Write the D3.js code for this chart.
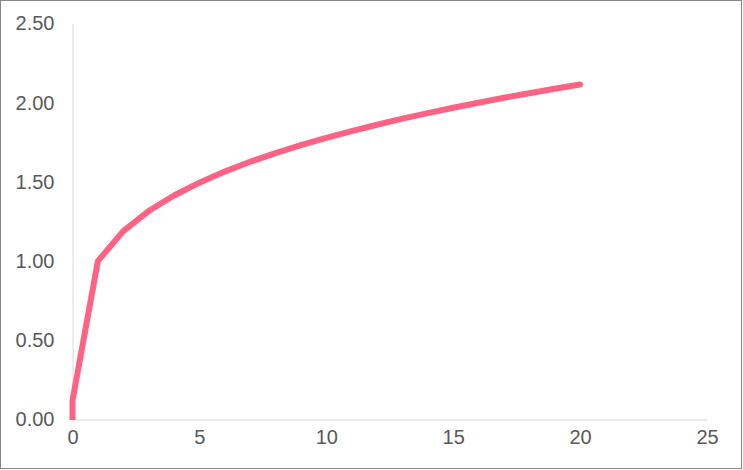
<!DOCTYPE html>
<html><head><meta charset="utf-8">
<script src="https://cdn.jsdelivr.net/npm/d3@7"></script>
<style>html,body{margin:0;padding:0;background:#fff;}svg{display:block;}</style>
</head><body>
<svg id="chart" width="743" height="470"></svg>
<script>
const xValues = [0, 0.0002, 1, 2, 3, 4, 5, 6, 7, 8, 9, 10, 11, 12, 13, 14, 15, 16, 17, 18, 19, 20];
const yValues = [0, 0.12, 1.000, 1.189, 1.316, 1.414, 1.495, 1.565, 1.627, 1.682, 1.732, 1.778, 1.821, 1.861, 1.899, 1.934, 1.968, 2.000, 2.031, 2.060, 2.088, 2.115];
const xTicks = [0, 5, 10, 15, 20, 25];
const yTicks = [0, 0.5, 1.0, 1.5, 2.0, 2.5];

const svg = d3.select("#chart");
const W = 743, H = 470;
svg.append("rect").attr("x", 0.5).attr("y", 0.5).attr("width", W - 2).attr("height", H - 2)
  .attr("fill", "#fff").attr("stroke", "#868686").attr("stroke-width", 1);

const x = d3.scaleLinear().domain([0, 25]).range([72.5, 707]);
const y = d3.scaleLinear().domain([0, 2.5]).range([419.5, 23.5]);
const font = "'Liberation Sans', Arial, sans-serif";

svg.append("clipPath").attr("id", "plotclip").append("rect")
  .attr("x", 60).attr("y", 0).attr("width", 700).attr("height", y(0) + 0.5);

// y axis
const yAxis = svg.append("g").attr("transform", `translate(${x(0)},0)`)
  .call(d3.axisLeft(y).tickValues(yTicks).tickSize(0).tickPadding(18).tickFormat(d3.format(".2f")));
yAxis.select(".domain").attr("stroke", "#d9d9d9");
yAxis.selectAll("text").attr("font-family", font).attr("font-size", 20).attr("fill", "#595959");

// x axis
const xAxis = svg.append("g").attr("transform", `translate(0,${y(0)})`)
  .call(d3.axisBottom(x).tickValues(xTicks).tickSize(0).tickPadding(10).tickFormat(d3.format("d")));
xAxis.select(".domain").attr("stroke", "#d9d9d9");
xAxis.selectAll("text").attr("font-family", font).attr("font-size", 20).attr("fill", "#595959");

const data = xValues.map((v, i) => [v, yValues[i]]);
svg.append("path").datum(data).attr("clip-path", "url(#plotclip)")
  .attr("fill", "none").attr("stroke", "#ff6384").attr("stroke-width", 6)
  .attr("stroke-linecap", "round").attr("stroke-linejoin", "round")
  .attr("d", d3.line().x(d => x(d[0])).y(d => y(d[1])));
</script>
</body></html>
